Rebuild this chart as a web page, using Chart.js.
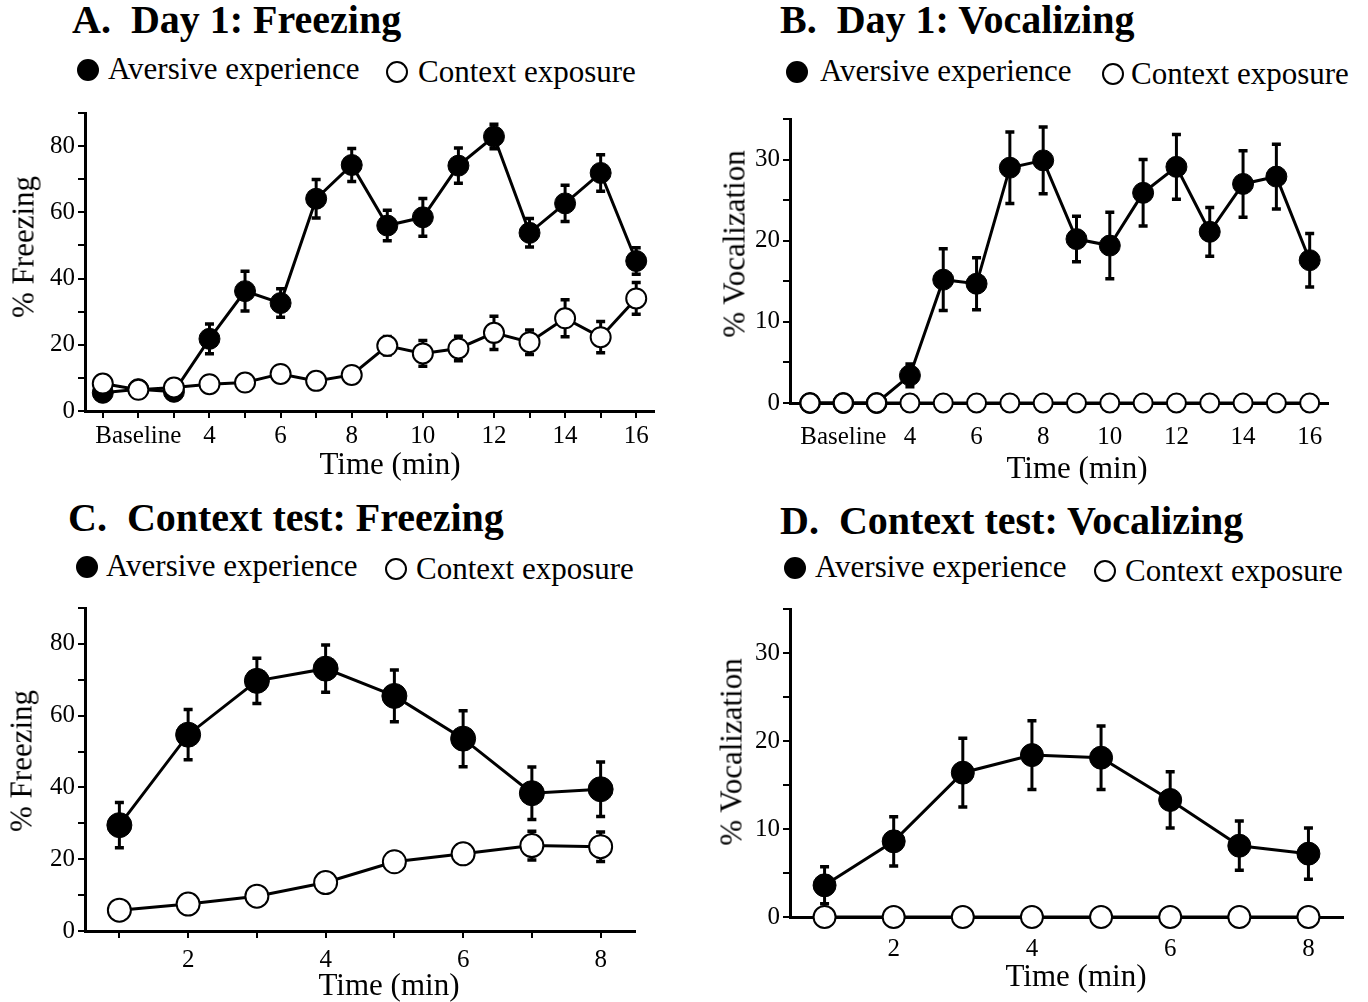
<!DOCTYPE html>
<html><head><meta charset="utf-8">
<script src="https://cdn.jsdelivr.net/npm/chart.js@4/dist/chart.umd.min.js"></script>
<style>
html,body{margin:0;padding:0;background:#fff;}
body{width:1368px;height:1002px;position:relative;overflow:hidden;font-family:"Liberation Serif","Times New Roman",serif;color:#000;}
.cv{position:absolute;}
.title{position:absolute;font-weight:bold;font-size:40px;line-height:40px;white-space:nowrap;}
.leg{position:absolute;font-size:31px;line-height:31px;white-space:nowrap;}
.dot{position:absolute;border-radius:50%;box-sizing:border-box;width:22px;height:22px;}
.fill{background:#000;}
.open{background:#fff;border:2px solid #000;}
.xt{position:absolute;font-size:31px;line-height:31px;white-space:nowrap;transform:translate(-50%,-50%);}
.yt{position:absolute;font-size:31px;line-height:31px;white-space:nowrap;transform:translate(-50%,-50%) rotate(-90deg);}
</style></head>
<body>
<div class="title" style="left:72px;top:0px;">A.&nbsp; Day 1: Freezing</div>
<div class="dot fill" style="left:77px;top:59px;"></div><div class="leg" style="left:108px;top:53px;">Aversive experience</div>
<div class="dot open" style="left:386px;top:61px;"></div><div class="leg" style="left:418px;top:56px;">Context exposure</div>

<div class="title" style="left:780px;top:0px;">B.&nbsp; Day 1: Vocalizing</div>
<div class="dot fill" style="left:786px;top:61px;"></div><div class="leg" style="left:820px;top:55px;">Aversive experience</div>
<div class="dot open" style="left:1102px;top:63px;"></div><div class="leg" style="left:1131px;top:58px;">Context exposure</div>

<div class="title" style="left:68px;top:498px;">C.&nbsp; Context test: Freezing</div>
<div class="dot fill" style="left:76px;top:556px;"></div><div class="leg" style="left:106px;top:550px;">Aversive experience</div>
<div class="dot open" style="left:385px;top:558px;"></div><div class="leg" style="left:416px;top:553px;">Context exposure</div>

<div class="title" style="left:780px;top:501px;">D.&nbsp; Context test: Vocalizing</div>
<div class="dot fill" style="left:784px;top:557px;"></div><div class="leg" style="left:815px;top:551px;">Aversive experience</div>
<div class="dot open" style="left:1094px;top:560px;"></div><div class="leg" style="left:1125px;top:555px;">Context exposure</div>

<canvas id="cA" class="cv" width="684" height="400" style="left:0;top:95px;"></canvas>
<canvas id="cB" class="cv" width="684" height="400" style="left:684px;top:95px;"></canvas>
<canvas id="cC" class="cv" width="684" height="412" style="left:0;top:590px;"></canvas>
<canvas id="cD" class="cv" width="684" height="412" style="left:684px;top:590px;"></canvas>

<div class="xt" style="left:390px;top:463px;">Time (min)</div>
<div class="xt" style="left:1077px;top:467px;">Time (min)</div>
<div class="xt" style="left:389px;top:984px;">Time (min)</div>
<div class="xt" style="left:1076px;top:975px;">Time (min)</div>
<div class="yt" style="left:23px;top:247px;">% Freezing</div>
<div class="yt" style="left:734px;top:244px;">% Vocalization</div>
<div class="yt" style="left:21px;top:761px;">% Freezing</div>
<div class="yt" style="left:731px;top:752px;">% Vocalization</div>

<script>
// ---------- data ----------
const day1Minutes = [1,2,3,4,5,6,7,8,9,10,11,12,13,14,15,16];
const day1TickLabels = ['', 'Baseline', '', '4', '', '6', '', '8', '', '10', '', '12', '', '14', '', '16'];
const testMinutes = [1,2,3,4,5,6,7,8];
const testTickLabels = ['', '2', '', '4', '', '6', '', '8'];

const freezeDay1Aversive    = [5.5, 6.6, 5.8, 21.8, 36.2, 32.6, 64.1, 74.3, 56.0, 58.5, 74.1, 82.9, 53.8, 62.7, 71.9, 45.3];
const freezeDay1AversiveErr = [1, 1, 1, 4.5, 6, 4.3, 5.8, 5, 4.6, 5.7, 5.3, 3.7, 4.3, 5.5, 5.5, 4];
const freezeDay1Context     = [8.3, 6.4, 7.1, 8.1, 8.6, 11.2, 9.1, 10.9, 19.7, 17.4, 18.9, 23.6, 20.8, 28.0, 22.3, 34.0];
const freezeDay1ContextErr  = [1, 1, 1, 1, 1, 1, 1, 1, 2.8, 3.9, 3.7, 5, 3.7, 5.6, 4.7, 4.8];

const vocalDay1Aversive    = [0, 0, 0, 3.4, 15.2, 14.7, 29.0, 29.9, 20.2, 19.4, 25.9, 29.1, 21.1, 27.0, 27.9, 17.6];
const vocalDay1AversiveErr = [0, 0, 0, 1.4, 3.8, 3.2, 4.4, 4.1, 2.8, 4.1, 4.1, 4.0, 3.0, 4.1, 4.0, 3.3];
const vocalDay1Context     = [0, 0, 0, 0, 0, 0, 0, 0, 0, 0, 0, 0, 0, 0, 0, 0];
const vocalDay1ContextErr  = [0, 0, 0, 0, 0, 0, 0, 0, 0, 0, 0, 0, 0, 0, 0, 0];

const freezeTestAversive    = [29.5, 54.7, 69.7, 73.1, 65.5, 53.6, 38.4, 39.5];
const freezeTestAversiveErr = [6.3, 7, 6.3, 6.6, 7.2, 7.8, 7.3, 7.6];
const freezeTestContext     = [5.8, 7.5, 9.7, 13.5, 19.3, 21.5, 23.8, 23.5];
const freezeTestContextErr  = [1, 1, 1, 1, 1.5, 2.5, 4, 4.1];

const vocalTestAversive    = [3.6, 8.6, 16.4, 18.4, 18.1, 13.3, 8.1, 7.2];
const vocalTestAversiveErr = [2.1, 2.8, 3.9, 3.9, 3.6, 3.2, 2.8, 2.9];
const vocalTestContext     = [0, 0, 0, 0, 0, 0, 0, 0];
const vocalTestContextErr  = [0, 0, 0, 0, 0, 0, 0, 0];

// ---------- helpers ----------
const FONT = '"Liberation Serif", "Times New Roman", serif';
Chart.defaults.font.family = FONT;
Chart.defaults.color = '#000';

const errorBarPlugin = {
  id: 'errorBars',
  beforeDatasetsDraw(chart) {
    const ctx = chart.ctx, xs = chart.scales.x, ys = chart.scales.y;
    chart.data.datasets.forEach(ds => {
      if (!ds.errorBars) return;
      ctx.save();
      ctx.strokeStyle = '#000';
      ds.data.forEach((pt, j) => {
        const e = ds.errorBars[j];
        if (!e) return;
        const x = xs.getPixelForValue(pt.x);
        const yT = ys.getPixelForValue(pt.y + e), yB = ys.getPixelForValue(pt.y - e);
        ctx.lineWidth = 3;
        ctx.beginPath(); ctx.moveTo(x, yT); ctx.lineTo(x, yB); ctx.stroke();
        ctx.lineWidth = 3.5;
        ctx.beginPath();
        ctx.moveTo(x - 4.5, yT); ctx.lineTo(x + 4.5, yT);
        ctx.moveTo(x - 4.5, yB); ctx.lineTo(x + 4.5, yB);
        ctx.stroke();
      });
      ctx.restore();
    });
  }
};

function pts(xs, ys) { return xs.map((x, i) => ({x, y: ys[i]})); }

function makePanel(id, p) {
  new Chart(document.getElementById(id), {
    type: 'line',
    data: {
      datasets: [
        { label: 'Context exposure', data: pts(p.x, p.ctx), errorBars: p.ctxErr, order: 0, clip: false,
          borderColor: '#000', borderWidth: 3, tension: 0,
          pointRadius: p.rOpen, pointBackgroundColor: '#fff', pointBorderColor: '#000', pointBorderWidth: 2 },
        { label: 'Aversive experience', data: pts(p.x, p.av), errorBars: p.avErr, order: 1, clip: false,
          borderColor: '#000', borderWidth: 3, tension: 0,
          pointRadius: p.rFill, pointBackgroundColor: '#000', pointBorderColor: '#000', pointBorderWidth: 1 }
      ]
    },
    options: {
      responsive: false, animation: false,
      layout: { padding: { left: 0, top: p.padTop, right: p.padRight, bottom: 0 } },
      plugins: { legend: { display: false }, tooltip: { enabled: false } },
      scales: {
        x: {
          type: 'linear', min: p.xmin, max: p.xmax,
          afterBuildTicks: s => { s.ticks = p.x.map(v => ({ value: v })); },
          afterFit: s => { s.height = p.xH; },
          ticks: { autoSkip: false, maxRotation: 0, color: '#000', font: { size: 25 }, padding: p.xTickPad,
                   callback: (v, i) => p.labels[i] },
          grid: { drawOnChartArea: false, drawTicks: p.xTicks, tickLength: 7, color: '#000', lineWidth: 2 },
          border: { display: true, color: '#000', width: 3 },
          title: { display: false }
        },
        y: {
          type: 'linear', min: 0, max: p.ymax,
          afterBuildTicks: s => { const t = []; for (let v = 0; v <= p.ymax + 1e-9; v += p.ystep) t.push({ value: v }); s.ticks = t; },
          afterFit: s => { s.width = p.yW; },
          ticks: { autoSkip: false, color: '#000', font: { size: 25 }, padding: 3,
                   callback: v => (Math.round(v) % p.ylab === 0 ? String(Math.round(v)) : '') },
          grid: { drawOnChartArea: false, drawTicks: true, tickLength: 7, color: '#000', lineWidth: 2 },
          border: { display: true, color: '#000', width: 3 },
          title: { display: false }
        }
      }
    },
    plugins: [errorBarPlugin]
  });
}

makePanel('cA', { x: day1Minutes, labels: day1TickLabels, av: freezeDay1Aversive, avErr: freezeDay1AversiveErr,
  ctx: freezeDay1Context, ctxErr: freezeDay1ContextErr, xmin: 0.5, xmax: 16.5, ymax: 90, ystep: 10, ylab: 20,
  yW: 85, xH: 84, padTop: 8, padRight: 30, xTicks: true, xTickPad: 3, rFill: 10.5, rOpen: 10 });

makePanel('cB', { x: day1Minutes, labels: day1TickLabels, av: vocalDay1Aversive, avErr: vocalDay1AversiveErr,
  ctx: vocalDay1Context, ctxErr: vocalDay1ContextErr, xmin: 0.4, xmax: 16.55, ymax: 35, ystep: 5, ylab: 10,
  yW: 106, xH: 92, padTop: 24, padRight: 40, xTicks: false, xTickPad: 19, rFill: 10.5, rOpen: 9.5 });

makePanel('cC', { x: testMinutes, labels: testTickLabels, av: freezeTestAversive, avErr: freezeTestAversiveErr,
  ctx: freezeTestContext, ctxErr: freezeTestContextErr, xmin: 0.5, xmax: 8.5, ymax: 90, ystep: 10, ylab: 20,
  yW: 85, xH: 71, padTop: 11, padRight: 49, xTicks: true, xTickPad: 7, rFill: 12.5, rOpen: 11.5 });

makePanel('cD', { x: testMinutes, labels: testTickLabels, av: vocalTestAversive, avErr: vocalTestAversiveErr,
  ctx: vocalTestContext, ctxErr: vocalTestContextErr, xmin: 0.5, xmax: 8.5, ymax: 35, ystep: 5, ylab: 10,
  yW: 106, xH: 85, padTop: 19, padRight: 25, xTicks: false, xTickPad: 17, rFill: 11.5, rOpen: 11 });
</script>
</body></html>
